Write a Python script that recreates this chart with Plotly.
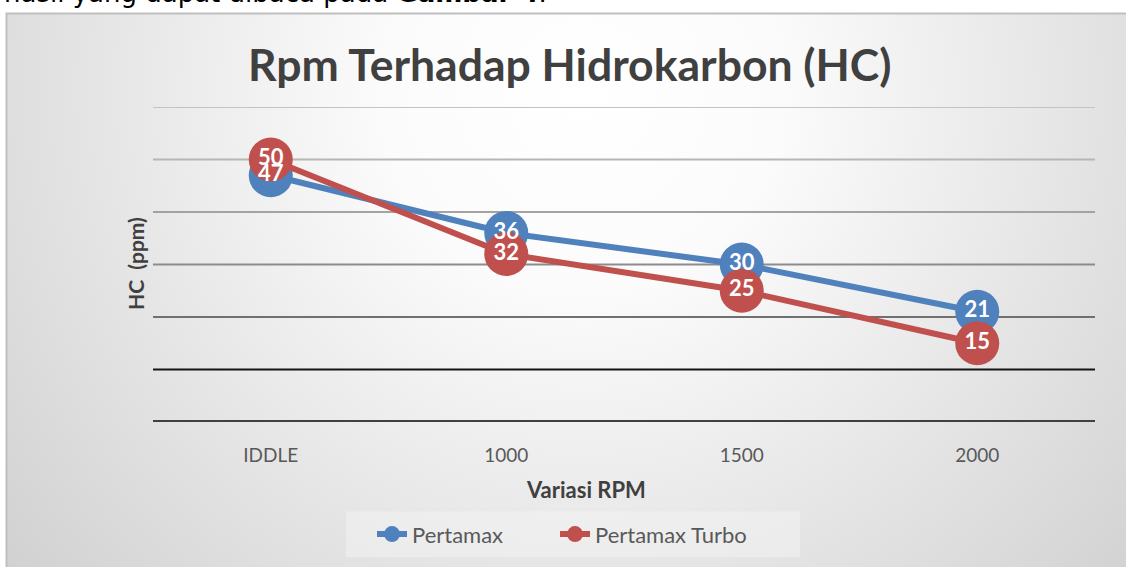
import base64
import plotly.graph_objects as go

categories = ["IDDLE", "1000", "1500", "2000"]
pertamax = [47, 36, 30, 21]
pertamax_turbo = [50, 32, 25, 15]
series_names = ["Pertamax", "Pertamax Turbo"]
grid_values = [60, 50, 40, 30, 20, 10, 0]
grid_colors = ["#c3c3c3", "#b6b6b6", "#a3a3a3", "#8c8c8c", "#707070", "#141414", "#404040"]
grid_widths = [2, 2, 2, 2, 2, 2, 4]

BLUE = "#4F81BD"
RED = "#C0504D"
FONT = "Lato"
TXT = "#404040"

# plot area in pixels
X0, X1, YT, YB = 153, 1095, 107, 424
W, H = X1 - X0, YB - YT


def px(x):
    return (x - X0) / W


def py(y):
    return (YB - y) / H


svg = (
    '<svg xmlns="http://www.w3.org/2000/svg" width="1130" height="565" viewBox="0 0 1130 565" '
    'preserveAspectRatio="none"><defs><radialGradient id="g" gradientUnits="userSpaceOnUse" '
    'cx="575" cy="80" r="800"><stop offset="0" stop-color="#ffffff"/>'
    '<stop offset="0.25" stop-color="#fbfbfb"/>'
    '<stop offset="1" stop-color="#cdcdcd"/></radialGradient></defs>'
    '<rect width="1130" height="565" fill="url(#g)"/></svg>'
)
bg_src = "data:image/svg+xml;base64," + base64.b64encode(svg.encode()).decode()

fig = go.Figure()
fig.add_trace(go.Scatter(
    x=categories, y=pertamax, name=series_names[0], mode="lines+markers",
    line=dict(color=BLUE, width=6), marker=dict(color=BLUE, size=44),
    cliponaxis=False, legend="legend",
))
fig.add_trace(go.Scatter(
    x=categories, y=pertamax_turbo, name=series_names[1], mode="lines+markers",
    line=dict(color=RED, width=6), marker=dict(color=RED, size=44),
    cliponaxis=False, legend="legend2",
))
for vals in (pertamax, pertamax_turbo):
    fig.add_trace(go.Scatter(
        x=categories, y=vals, mode="text", text=[str(v) for v in vals],
        textposition="middle center", showlegend=False, hoverinfo="skip",
        textfont=dict(family=FONT, size=22, color="white", weight="bold"),
        cliponaxis=False,
    ))

for v, c, w in zip(grid_values, grid_colors, grid_widths):
    fig.add_shape(type="line", xref="paper", x0=0, x1=1, yref="y", y0=v, y1=v,
                  line=dict(color=c, width=w), layer="below")

# chart frame
fig.add_shape(type="rect", xref="paper", yref="paper",
              x0=px(6.5), x1=px(1140), y0=py(13), y1=py(580),
              line=dict(color="#bfbfbf", width=2), layer="below")
# legend box
fig.add_shape(type="rect", xref="paper", yref="paper",
              x0=px(346), x1=px(800), y0=py(514), y1=py(560),
              line=dict(width=0), fillcolor="rgba(242,242,242,0.55)", layer="below")

fig.add_layout_image(dict(
    source=bg_src, xref="paper", yref="paper", x=px(7), y=py(13),
    sizex=(1130) / W, sizey=(565) / H, sizing="stretch",
    xanchor="left", yanchor="top", layer="below",
))

fig.add_annotation(
    text="hasil yang dapat dibaca pada <b>Gambar 4</b>.", xref="paper", yref="paper",
    x=px(2), y=py(-8), xanchor="left", yanchor="middle", showarrow=False,
    font=dict(family="DejaVu Sans", size=26, color="#000000"),
)
fig.add_annotation(
    text="<b>Rpm Terhadap Hidrokarbon (HC)</b>", xref="paper", yref="paper",
    x=px(570), y=py(63), xanchor="center", yanchor="middle", showarrow=False,
    font=dict(family=FONT, size=44.5, color=TXT),
)
fig.add_annotation(
    text="<b>HC  (ppm)</b>", xref="paper", yref="paper", textangle=-90,
    x=px(135), y=py(265), xanchor="center", yanchor="middle", showarrow=False,
    font=dict(family=FONT, size=21, color=TXT),
)
fig.add_annotation(
    text="<b>Variasi RPM</b>", xref="paper", yref="paper",
    x=px(586), y=py(492), xanchor="center", yanchor="middle", showarrow=False,
    font=dict(family=FONT, size=22, color=TXT),
)

fig.update_xaxes(
    type="category", range=[-0.5, 3.5], showgrid=False, zeroline=False, showline=False,
    ticks="", ticklabelstandoff=20, tickfont=dict(family=FONT, size=19, color="#595959"),
)
fig.update_yaxes(
    range=[0, 60], showgrid=False, zeroline=False, showline=False, showticklabels=False,
)

legend_common = dict(
    orientation="h", xanchor="left", yanchor="middle", y=py(537),
    bgcolor="rgba(0,0,0,0)", font=dict(family=FONT, size=22, color="#595959"),
)
fig.update_layout(
    width=1126, height=567,
    margin=dict(l=X0, r=1126 - X1, t=YT, b=567 - YB),
    paper_bgcolor="white", plot_bgcolor="rgba(0,0,0,0)",
    showlegend=True,
    legend=dict(x=px(372), **legend_common),
    legend2=dict(x=px(555), **legend_common),
    hovermode=False,
)

fig.write_html(
    "out.html",
    config={"displayModeBar": False},
    post_script="document.body.style.margin='0';document.body.style.overflow='hidden';",
)
